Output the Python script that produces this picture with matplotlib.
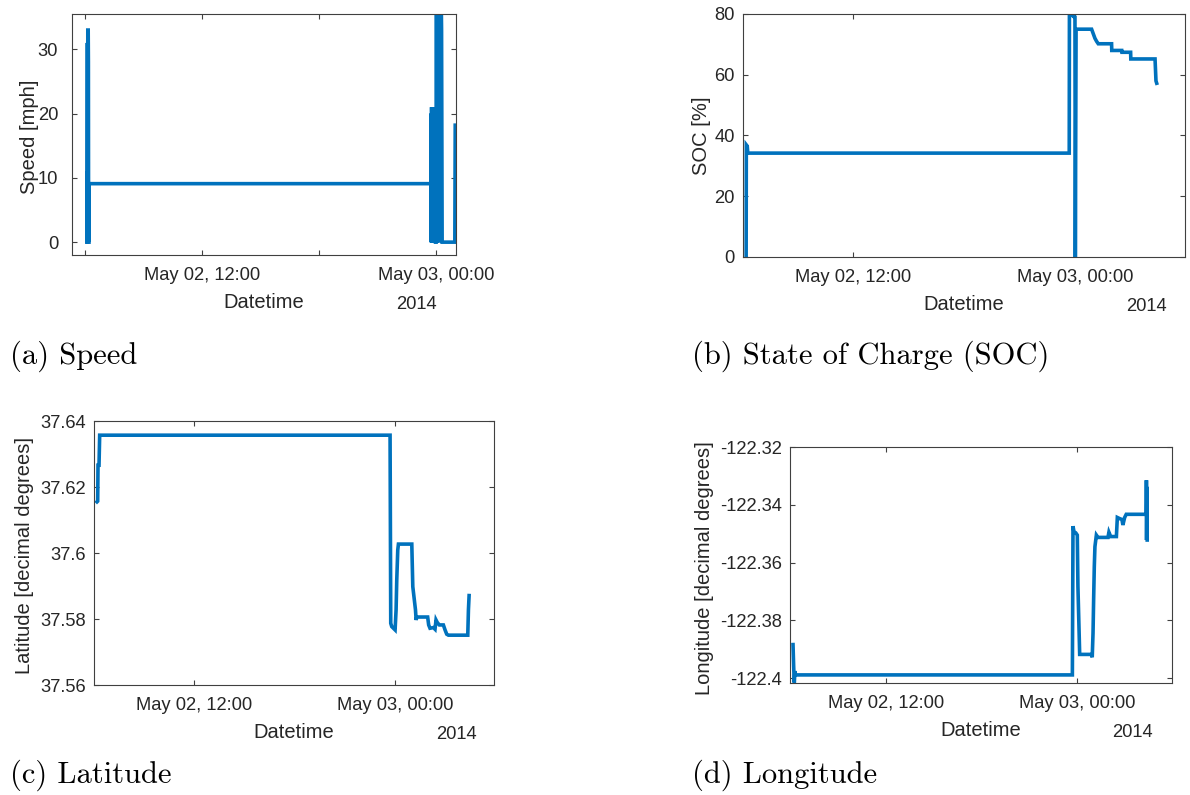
import numpy as np
import matplotlib
matplotlib.use("Agg")
import matplotlib.pyplot as plt
import matplotlib.dates as mdates
from matplotlib.ticker import FuncFormatter, FixedLocator

# ---------------- data (hours after 2014-05-02 00:00) ----------------
speed_hours = [6.08, 6.09, 6.10, 6.11, 6.12, 6.13, 6.15, 6.16, 6.17, 6.19, 6.20,
               23.71, 23.72, 23.73, 23.74, 23.75, 23.76, 23.77, 23.78, 23.79, 23.80,
               23.81, 23.82, 23.83, 23.84, 23.85, 23.86, 23.87, 23.88, 23.89, 23.90,
               23.91, 23.92, 23.93, 23.95,
               23.98, 24.00, 24.02, 24.04, 24.06, 24.08, 24.10, 24.12, 24.14, 24.16,
               24.18, 24.20, 24.22, 24.24, 24.26, 24.29,
               24.94, 24.96]
speed_mph = [0, 11, 0, 31, 0, 33, 33, 28, 0, 0, 9.1,
             9.1, 0, 20, 0, 21, 0, 21, 0, 20, 0,
             21, 0, 19, 0, 21, 0, 21, 0, 20, 0,
             21, 0, 9, 0,
             0, 38, 0, 40, 0, 38, 0, 40, 2, 40,
             0, 40, 5, 38, 33, 0,
             0, 18.2]

soc_hours = [6.22, 6.23, 6.28, 6.31,
             23.69, 23.70, 23.82, 23.91, 24.00, 24.02, 24.06,
             24.90, 24.99, 25.08, 25.17, 25.26,
             25.98, 25.99, 26.53, 26.54, 27.01, 27.02, 28.33, 28.38, 28.42]
soc_pct = [0, 36.9, 36.5, 34.2,
           34.2, 80, 80, 79.2, 79, 0, 75,
           75, 73.5, 72, 71, 70.2,
           70.2, 68, 68, 67.4, 67.4, 65.2, 65.2, 58, 57.2]

lat_hours = [6.18, 6.22, 6.24, 6.30, 6.34,
             23.72, 23.76, 23.82, 23.92, 24.02,
             24.08, 24.12, 24.18, 24.22,
             25.02, 25.08, 25.16, 25.24, 25.28, 25.32,
             25.97, 26.03, 26.11, 26.31, 26.41, 26.47, 26.55, 26.67, 26.91, 27.01, 27.11, 27.21,
             28.37, 28.41, 28.45]
lat_deg = [37.6155, 37.6157, 37.6266, 37.6266, 37.6357,
           37.6357, 37.5787, 37.5777, 37.5772, 37.5767,
           37.5828, 37.5918, 37.6009, 37.6027,
           37.6027, 37.5898, 37.5863, 37.5828, 37.5797, 37.5806,
           37.5806, 37.5782, 37.5772, 37.5774, 37.5769, 37.5797, 37.5789, 37.5782, 37.5782, 37.5767, 37.5754, 37.5751,
           37.5751, 37.5828, 37.5871]

lon_hours = [6.13, 6.17, 6.21, 6.25, 6.29,
             23.71, 23.75, 23.81, 23.92, 24.02,
             24.06, 24.13, 24.17, 24.90, 24.96,
             25.01, 25.05, 25.09, 25.13, 25.22,
             25.32, 25.95, 26.01, 26.12, 26.48,
             26.54, 26.69, 26.83, 26.89, 27.00,
             27.10, 28.36, 28.37, 28.38, 28.40, 28.42]
lon_deg = [-122.3884, -122.3959, -122.4016, -122.3976, -122.3989,
           -122.3989, -122.3474, -122.3493, -122.3497, -122.3505,
           -122.3683, -122.3832, -122.3918, -122.3918, -122.3928,
           -122.3844, -122.3723, -122.3614, -122.3545, -122.3505,
           -122.3513, -122.3513, -122.3495, -122.3510, -122.3510,
           -122.3444, -122.3448, -122.3451, -122.3470, -122.3444,
           -122.3433, -122.3433, -122.3315, -122.3522, -122.3338, -122.3522]

ylabels = ["Speed [mph]", "SOC [%]", "Latitude [decimal degrees]", "Longitude [decimal degrees]"]
captions = ["(a) Speed", "(b) State of Charge (SOC)", "(c) Latitude", "(d) Longitude"]
xlabel_text = "Datetime"
year_text = "2014"

# ---------------- helpers ----------------
BASE = np.datetime64("2014-05-02T00:00:00")


def to_dt(hours):
    secs = np.round(np.asarray(hours, dtype=float) * 3600).astype("int64")
    return BASE + secs.astype("timedelta64[s]")


W, H = 1190, 795
fig = plt.figure(figsize=(W / 100, H / 100), dpi=100)
fig.patch.set_facecolor("white")

TXT = "#262626"
EDGE = "#404040"
LINE = "#0072BD"
TICKFS = 13.2
LABFS = 14.5

plt.rcParams["font.family"] = ["Liberation Sans", "DejaVu Sans"]

panels = [
    # L, T, R, B, xlim(h), ylim, yticks, ypad(pt), ylabel right px, ylabel center frac, year right gap
    dict(box=(72, 14, 456, 255), xlim=(5.32, 25.0), ylim=(-2.0, 35.5),
         yticks=[0, 10, 20, 30], ypad=10, ylx=39, yly=0.49, yr=19, minor=True),
    dict(box=(743, 14, 1185, 257), xlim=(6.05, 29.95), ylim=(0, 80),
         yticks=[0, 20, 40, 60, 80], ypad=6, ylx=711, yly=0.498, yr=18, minor=False),
    dict(box=(94, 421, 494, 685), xlim=(6.0, 29.94), ylim=(37.56, 37.64),
         yticks=[37.56, 37.58, 37.60, 37.62, 37.64], ypad=6, ylx=34, yly=0.489, yr=17, minor=False),
    dict(box=(790, 447, 1172, 683), xlim=(5.94, 29.98), ylim=(-122.4017, -122.32),
         yticks=[-122.40, -122.38, -122.36, -122.34, -122.32], ypad=6, ylx=714.5, yly=0.485, yr=19, minor=False),
]
series = [(speed_hours, speed_mph), (soc_hours, soc_pct), (lat_hours, lat_deg), (lon_hours, lon_deg)]
caption_pos = [(10, 364), (692, 364), (10, 783), (692, 783)]

for i, p in enumerate(panels):
    L, T, R, B = p["box"]
    wpx, hpx = R - L, B - T
    ax = fig.add_axes([L / W, 1 - B / H, wpx / W, hpx / H])
    hrs, vals = series[i]
    ax.plot(to_dt(hrs), vals, color=LINE, lw=2.6, solid_joinstyle="miter")
    ax.set_xlim(to_dt([p["xlim"][0]])[0], to_dt([p["xlim"][1]])[0])
    ax.set_ylim(*p["ylim"])
    ax.set_yticks(p["yticks"])
    ax.yaxis.set_major_formatter(FuncFormatter(lambda v, pos: "%g" % round(v, 4)))
    ax.set_xticks(to_dt([12, 24]))
    ax.xaxis.set_major_formatter(mdates.DateFormatter("%b %d, %H:%M"))
    if p["minor"]:
        ax.xaxis.set_minor_locator(FixedLocator(mdates.date2num(to_dt([6, 18]))))
    for s in ax.spines.values():
        s.set_color(EDGE)
        s.set_linewidth(0.8)
    ax.tick_params(axis="both", which="both", direction="in", top=True, right=True,
                   length=3.5, width=0.8, color=EDGE, labelcolor=TXT, labelsize=TICKFS)
    ax.tick_params(axis="x", which="major", pad=8.6)
    ax.tick_params(axis="y", which="major", pad=p["ypad"])
    ax.set_xlabel(xlabel_text, fontsize=LABFS, color=TXT)
    ax.xaxis.set_label_coords(0.5, -38 / hpx)
    ax.set_ylabel(ylabels[i], fontsize=LABFS, color=TXT)
    ax.yaxis.set_label_coords((p["ylx"] - L) / wpx, p["yly"])
    ax.text(1 - p["yr"] / wpx, -54 / hpx, year_text, transform=ax.transAxes,
            ha="right", va="baseline", fontsize=TICKFS, color=TXT)
    cx, cy = caption_pos[i]
    fig.text(cx / W, 1 - cy / H, captions[i], family="cmr10", fontsize=22,
             color="black", ha="left", va="baseline")

fig.savefig("out.png", dpi=100, facecolor="white")
